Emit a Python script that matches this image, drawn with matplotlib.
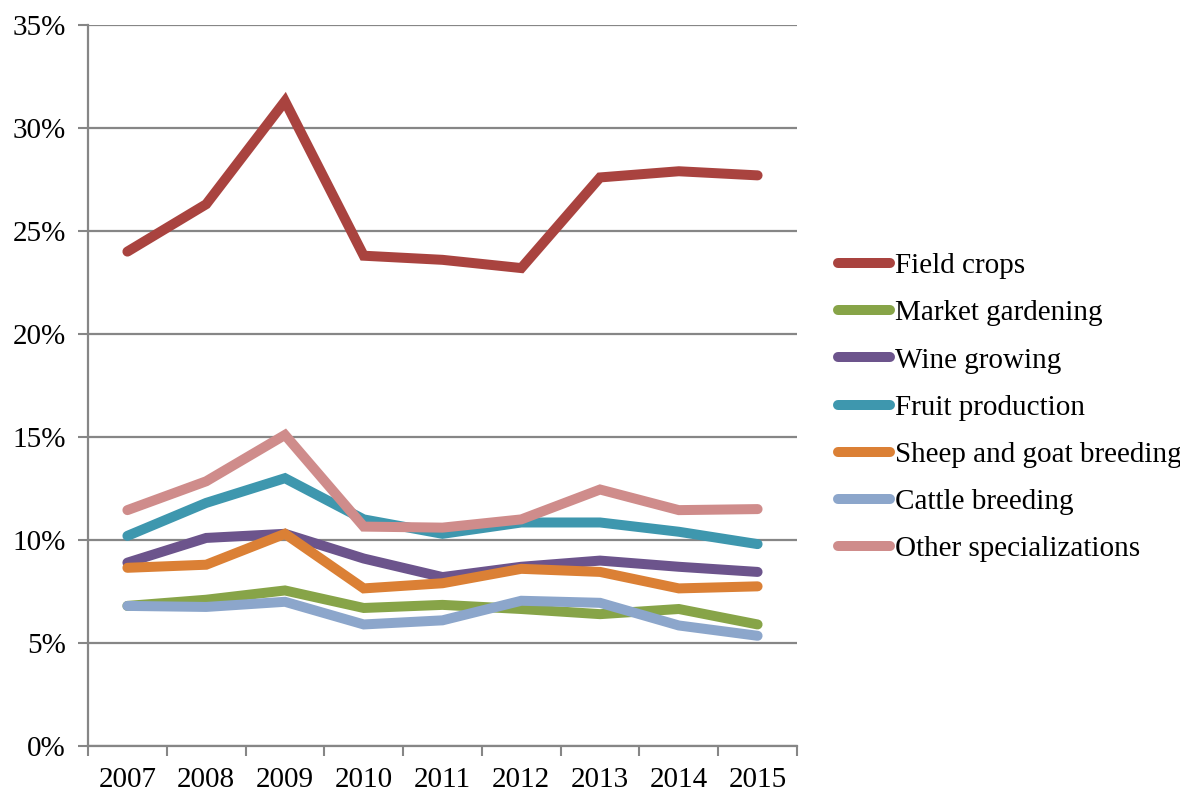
import matplotlib.pyplot as plt
from matplotlib.ticker import FixedLocator, FuncFormatter

plt.rcParams['font.family'] = ['Liberation Serif', 'DejaVu Serif']

# Data (share in %)
years = ['2007', '2008', '2009', '2010', '2011', '2012', '2013', '2014', '2015']
field_crops = [24.0, 26.3, 31.3, 23.8, 23.6, 23.2, 27.6, 27.9, 27.7]
market_gardening = [6.8, 7.1, 7.55, 6.7, 6.85, 6.65, 6.4, 6.65, 5.9]
wine_growing = [8.9, 10.1, 10.3, 9.1, 8.2, 8.7, 9.0, 8.7, 8.45]
fruit_production = [10.2, 11.8, 13.0, 11.0, 10.3, 10.85, 10.85, 10.4, 9.8]
sheep_goat = [8.65, 8.8, 10.3, 7.65, 7.9, 8.6, 8.45, 7.65, 7.75]
cattle = [6.8, 6.75, 7.0, 5.9, 6.1, 7.05, 6.95, 5.85, 5.35]
other = [11.45, 12.85, 15.1, 10.65, 10.6, 11.0, 12.45, 11.45, 11.5]

series = [
    ('Field crops', field_crops, '#A9433F'),
    ('Market gardening', market_gardening, '#87A448'),
    ('Wine growing', wine_growing, '#6C548C'),
    ('Fruit production', fruit_production, '#3E97AE'),
    ('Sheep and goat breeding', sheep_goat, '#DB8035'),
    ('Cattle breeding', cattle, '#8CA6CB'),
    ('Other specializations', other, '#CF8C8B'),
]

fig = plt.figure(figsize=(11.8, 7.91), dpi=100)
ax = fig.add_axes([0.0746, 0.0569, 0.6008, 0.9115])

x = list(range(len(years)))
for label, vals, color in series:
    ax.plot(x, vals, color=color, lw=7.2, solid_capstyle='round',
            solid_joinstyle='miter', label=label)

ax.set_xlim(-0.5, len(years) - 0.5)
ax.set_ylim(0, 35)

# gridlines
ax.set_yticks(range(0, 36, 5))
ax.yaxis.set_major_formatter(FuncFormatter(lambda v, p: f'{int(v)}%'))
ax.grid(axis='y', color='#868686', lw=1.6)
ax.set_axisbelow(True)

# category labels centred, tick marks between categories
ax.set_xticks(x)
ax.set_xticklabels(years)
ax.xaxis.set_minor_locator(FixedLocator([i - 0.5 for i in range(len(years) + 1)]))
ax.tick_params(axis='x', which='major', length=0, pad=15, labelsize=21)
ax.tick_params(axis='x', which='minor', length=7, width=1.5, color='#868686')
ax.tick_params(axis='y', length=7, width=1.5, color='#868686', labelsize=21, pad=9)

for s in ['top', 'right']:
    ax.spines[s].set_visible(False)
for s in ['left', 'bottom']:
    ax.spines[s].set_color('#868686')
    ax.spines[s].set_linewidth(1.6)

leg = fig.legend(loc='upper left', bbox_to_anchor=(0.7, 0.695), frameon=False,
                 fontsize=21, handlelength=1.8, handletextpad=0.15,
                 labelspacing=0.71, borderaxespad=0)

fig.savefig('out.png', dpi=100)
